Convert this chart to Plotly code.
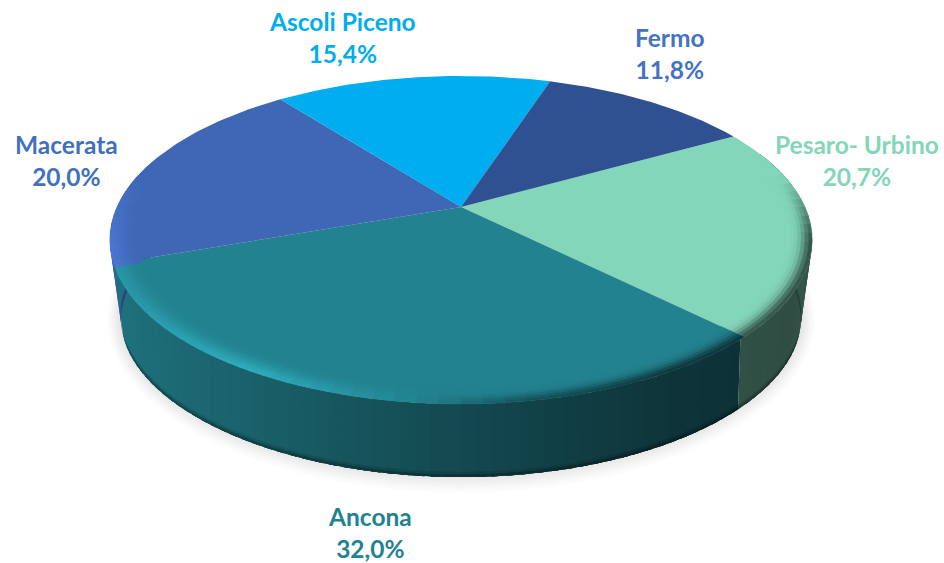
import numpy as np
import plotly.graph_objects as go

# ---- data ----
names = ["Pesaro- Urbino", "Ancona", "Macerata", "Ascoli Piceno", "Fermo"]
values = [20.7, 32.0, 20.0, 15.4, 11.8]

# ---- style ----
face_rgb = [(131, 214, 186), (35, 130, 143), (63, 103, 181), (0, 173, 239), (47, 81, 146)]
text_col = ["#83D6BA", "#23828F", "#4170BE", "#00ADEF", "#4472C4"]
label_xy = [(857, 160), (370, 532), (66, 160), (342, 37), (670, 53)]

START = 29.5
CX, CY, A, B, K = 461.0, 207.0, 344.0, 157.4, 0.201
CYB, AB, BB, KB, KBX = 282.0, 330.0, 142.8, 0.268, 0.24


def top(theta, r=1.0):
    u, v = r * np.cos(np.radians(theta)), r * np.sin(np.radians(theta))
    w = 1 / (1 + K * v)
    return CX + A * u * w, CY - B * v * w


def bot(theta, grow=0.0, dy=0.0):
    u, v = np.cos(np.radians(theta)), np.sin(np.radians(theta))
    return (CX + (AB + grow) * u / (1 + KBX * v),
            CYB + dy - (BB + grow) * v / (1 + KB * v))


def shade(rgb, f):
    return tuple(int(min(255, max(0, round(c * f)))) for c in rgb)


total = sum(values)
edges = [START]
for val in values:
    edges.append(edges[-1] - val / total * 360)


def slice_at(theta):
    t = (START - theta) % 360
    for i in range(len(values)):
        if t <= (edges[0] - edges[i + 1]):
            return i
    return len(values) - 1


groups = {}
order = []


def poly(layer, rgb, xs, ys):
    key = (layer, rgb)
    if key not in groups:
        groups[key] = ([], [])
        order.append(key)
    groups[key][0].extend(list(xs) + [xs[0], None])
    groups[key][1].extend(list(ys) + [ys[0], None])


# soft shadow below the disc
shadow_t = np.arange(0, 360, 3.0)
shadow_levels = [253, 251, 249, 246, 243, 240, 237, 234, 231, 228, 226]
for i, lvl in enumerate(shadow_levels):
    g = 14 - i * 1.4
    x, y = bot(shadow_t, grow=g, dy=-3)
    poly(i, (lvl, lvl, lvl), list(x), list(y))

# side wall, painted from the back towards the front; each strip overlaps the next
STEP = 2.0
light_u = [-1.0, -0.5, 0.0, 0.5, 0.85, 1.0]
light_f = [0.90, 0.74, 0.56, 0.40, 0.36, 0.40]
bands = [(0.0, 1.0, 1.0), (0.93, 1.0, 0.88), (0.965, 1.0, 0.68)]
thetas = np.arange(160, 380, STEP)
for t in thetas:
    mid = t + STEP / 2
    idx = slice_at(mid)
    f = float(np.interp(np.cos(np.radians(mid)), light_u, light_f))
    end = t + STEP
    if slice_at(mid + STEP) == idx:
        end = t + STEP * 1.6
    x1, y1 = top(t)
    x2, y2 = top(end)
    x3, y3 = bot(end)
    x4, y4 = bot(t)
    for bi, (a, b, d) in enumerate(bands):
        pts_x = [x1 + (x4 - x1) * a, x2 + (x3 - x2) * a, x2 + (x3 - x2) * b, x1 + (x4 - x1) * b]
        pts_y = [y1 + (y4 - y1) * a, y2 + (y3 - y2) * a, y2 + (y3 - y2) * b, y1 + (y4 - y1) * b]
        poly(20 + bi, shade(shade(face_rgb[idx], f), d), pts_x, pts_y)

# top faces
for i in range(len(values)):
    arc = np.linspace(edges[i], edges[i + 1], 80)
    x, y = top(arc)
    poly(30 + i, face_rgb[i], [CX] + list(x), [CY] + list(y))

# rounded bevel on the rim of the face (painted inner ring to outer ring)
rings = [0.93, 0.94, 0.95, 0.96, 0.97, 0.98, 0.99, 1.0]
profile = [0.06, 0.14, 0.28, 0.46, 0.68, 0.88, 1.0]
bevel_u = [-1.0, -0.9, -0.5, -0.1, 0.15, 0.5, 1.0]
bevel_h = [0.15, 0.15, 0.33, 0.0, -0.35, -0.55, -0.6]
BSTEP = 3.0
for t in np.arange(150, 400, BSTEP):
    mid = t + BSTEP / 2
    u, v = np.cos(np.radians(mid)), np.sin(np.radians(mid))
    idx = slice_at(mid)
    fade = float(np.clip((0.2 - v) / 0.4, 0, 1))
    h = float(np.interp(u, bevel_u, bevel_h)) * fade
    if fade == 0:
        continue
    for j in range(len(profile)):
        p = profile[j] if h >= 0 else profile[j] ** 2
        x1, y1 = top(t, rings[j])
        x2, y2 = top(t + BSTEP, rings[j])
        x3, y3 = top(t + BSTEP, rings[j + 1])
        x4, y4 = top(t, rings[j + 1])
        poly(40 + j, shade(face_rgb[idx], 1 + h * p), [x1, x2, x3, x4], [y1, y2, y3, y4])

fig = go.Figure()
for key in sorted(order, key=lambda k: k[0]):
    rgb = "rgb(%d,%d,%d)" % key[1]
    fig.add_trace(go.Scatter(x=groups[key][0], y=groups[key][1], mode="lines", fill="toself",
                             fillcolor=rgb, line=dict(color=rgb, width=0.4 if key[0] >= 40 else 0),
                             hoverinfo="skip", showlegend=False))

for name, val, col, (lx, ly) in zip(names, values, text_col, label_xy):
    fig.add_annotation(x=lx, y=ly, xref="x", yref="y", showarrow=False,
                       text=f"<b>{name}<br>{val:.1f}%</b>".replace(".", ","),
                       font=dict(family="Lato", size=24.5, color=col), align="center")

fig.update_layout(width=944, height=563, margin=dict(l=0, r=0, t=0, b=0),
                  paper_bgcolor="white", plot_bgcolor="white", showlegend=False,
                  xaxis=dict(range=[0, 944], visible=False, fixedrange=True),
                  yaxis=dict(range=[563, 0], visible=False, fixedrange=True))
fig.write_html("out.html", config={"displayModeBar": False},
               post_script="document.body.style.margin='0';document.documentElement.style.overflow='hidden';")
